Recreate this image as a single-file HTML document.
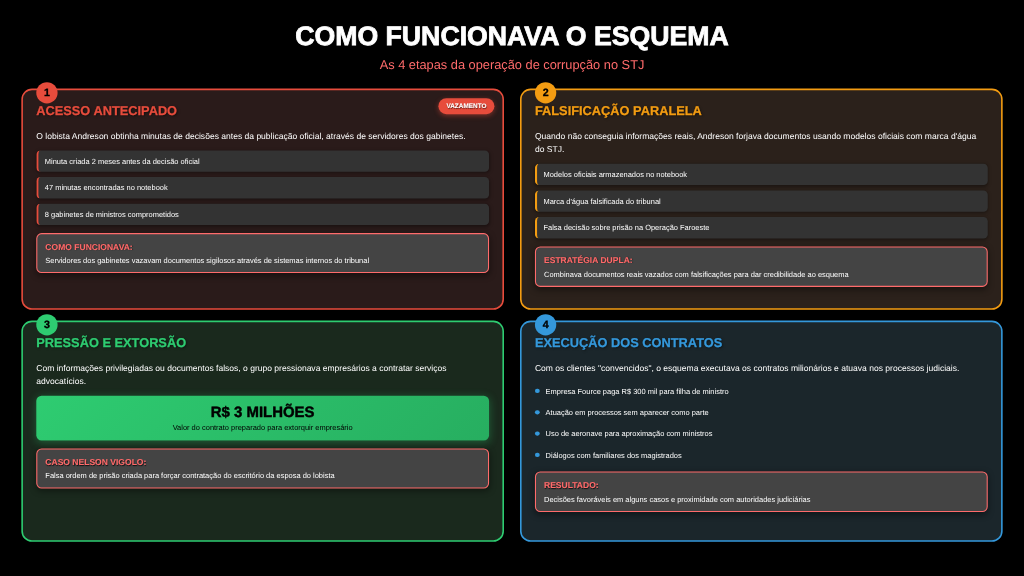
<!DOCTYPE html>
<html lang="pt-BR">
<head>
<meta charset="utf-8">
<title>Como funcionava o esquema</title>
<style>
*{box-sizing:border-box;margin:0;padding:0;-webkit-text-stroke-width:0}
h1,.num,.big b{-webkit-text-stroke-width:0.03em}
.hl b,.tag{-webkit-text-stroke-width:0.015em}
html,body{width:1024px;height:576px;overflow:hidden;background:#000}
body{font-family:"Liberation Sans",Arial,Helvetica,sans-serif;color:#fff;text-rendering:geometricPrecision}
#stage{position:absolute;left:0;top:0;width:1920px;height:1080px;transform:scale(0.5333333);transform-origin:0 0;background:#000;filter:brightness(1);padding:40px;line-height:1.6}
h1{font-size:50px;line-height:57.5px;font-weight:bold;text-align:center;color:#fff;margin-bottom:10px;letter-spacing:0}
.sub{font-size:24px;line-height:27.6px;text-align:center;color:#ff6b6b;margin-bottom:31px}
.grid{position:relative;width:1840px;height:850px}
.card{position:absolute;width:905px;height:415px;border:3px solid;border-radius:20px;padding:25px}
.c1{left:0;top:0;border-color:#e74c3c;background:#2a1b1a}
.c2{left:935px;top:0;border-color:#f39c12;background:#2b211b}
.c3{left:0;top:435px;border-color:#2ecc71;background:#1a291d}
.c4{left:935px;top:435px;border-color:#3498db;background:#1b262b}
.num{position:absolute;left:25px;top:-15px;width:40px;height:40px;border-radius:50%;font-size:20px;font-weight:bold;line-height:40px;text-align:center;color:#000}
.c1 .num{background:#e74c3c}.c2 .num{background:#f39c12}.c3 .num{background:#2ecc71}.c4 .num{background:#3498db}
h2{font-size:24px;line-height:27.6px;font-weight:bold;margin-bottom:21px;text-shadow:2px 2px 4px rgba(0,0,0,.5);-webkit-text-stroke-width:0.02em}
.c1 h2{color:#e74c3c}.c2 h2{color:#f39c12}.c3 h2{color:#2ecc71}.c4 h2{color:#3498db}
.desc{font-size:16px;line-height:25.6px;margin-bottom:13.4px;color:#fff}
.item{background:#333;border-left:4px solid;border-radius:8px;font-size:14px;line-height:20px;padding:10px 15px 10px 12px;margin-bottom:10.1px;box-shadow:0 2px 6px rgba(0,0,0,.35)}
.c1 .item{border-left-color:#e74c3c}.c2 .item{border-left-color:#f39c12}
.hl{background:#444;border:2px solid #ff6b6b;border-radius:10px;padding:15px 15px 14px;margin-top:15px;box-shadow:0 4px 12px rgba(0,0,0,.4)}
.hl b{display:block;font-size:16px;line-height:18.4px;color:#ff6b6b;margin-bottom:8px;position:relative;top:1px;text-shadow:1px 1px 2px rgba(0,0,0,.8)}
.hl p{font-size:14px;line-height:16.1px}
.tag{position:absolute;right:15px;top:15px;background:#e74c3c;color:#fff;font-size:12px;font-weight:bold;line-height:14px;padding:8px 15px;border-radius:15px;box-shadow:0 3px 10px rgba(231,76,60,.45);text-shadow:1px 1px 2px rgba(0,0,0,.6)}
.big{background:linear-gradient(135deg,#2ecc71,#27ae60);border-radius:10px;text-align:center;color:#000;padding:15px;margin-bottom:15px;box-shadow:0 4px 15px rgba(46,204,113,.3)}
.big b{display:block;font-size:28px;line-height:32.2px;margin-bottom:5px}
.big span{display:block;font-size:14px;line-height:16.1px}
ul{list-style:none;margin-top:-4px;margin-bottom:-3.4px}
li{position:relative;font-size:14px;line-height:22px;padding:9px 0 9px 20px}
li:before{content:"";position:absolute;left:0.3px;top:16px;width:8.4px;height:8.4px;border-radius:50%;background:#3498db}
</style>
</head>
<body>
<div id="stage">
<h1>COMO FUNCIONAVA O ESQUEMA</h1>
<div class="sub">As 4 etapas da operação de corrupção no STJ</div>
<div class="grid">
<div class="card c1">
<div class="num">1</div>
<div class="tag">VAZAMENTO</div>
<h2>ACESSO ANTECIPADO</h2>
<p class="desc">O lobista Andreson obtinha minutas de decisões antes da publicação oficial, através de servidores dos gabinetes.</p>
<div class="item">Minuta criada 2 meses antes da decisão oficial</div>
<div class="item">47 minutas encontradas no notebook</div>
<div class="item">8 gabinetes de ministros comprometidos</div>
<div class="hl"><b>COMO FUNCIONAVA:</b><p>Servidores dos gabinetes vazavam documentos sigilosos através de sistemas internos do tribunal</p></div>
</div>
<div class="card c2">
<div class="num">2</div>
<h2>FALSIFICAÇÃO PARALELA</h2>
<p class="desc">Quando não conseguia informações reais, Andreson forjava documentos usando modelos oficiais com marca d'água do STJ.</p>
<div class="item">Modelos oficiais armazenados no notebook</div>
<div class="item">Marca d'água falsificada do tribunal</div>
<div class="item">Falsa decisão sobre prisão na Operação Faroeste</div>
<div class="hl"><b>ESTRATÉGIA DUPLA:</b><p>Combinava documentos reais vazados com falsificações para dar credibilidade ao esquema</p></div>
</div>
<div class="card c3">
<div class="num">3</div>
<h2>PRESSÃO E EXTORSÃO</h2>
<p class="desc">Com informações privilegiadas ou documentos falsos, o grupo pressionava empresários a contratar serviços advocatícios.</p>
<div class="big"><b>R$ 3 MILHÕES</b><span>Valor do contrato preparado para extorquir empresário</span></div>
<div class="hl"><b>CASO NELSON VIGOLO:</b><p>Falsa ordem de prisão criada para forçar contratação do escritório da esposa do lobista</p></div>
</div>
<div class="card c4">
<div class="num">4</div>
<h2>EXECUÇÃO DOS CONTRATOS</h2>
<p class="desc">Com os clientes "convencidos", o esquema executava os contratos milionários e atuava nos processos judiciais.</p>
<ul>
<li>Empresa Fource paga R$ 300 mil para filha de ministro</li>
<li>Atuação em processos sem aparecer como parte</li>
<li>Uso de aeronave para aproximação com ministros</li>
<li>Diálogos com familiares dos magistrados</li>
</ul>
<div class="hl"><b>RESULTADO:</b><p>Decisões favoráveis em alguns casos e proximidade com autoridades judiciárias</p></div>
</div>
</div>
</div>
</body>
</html>
